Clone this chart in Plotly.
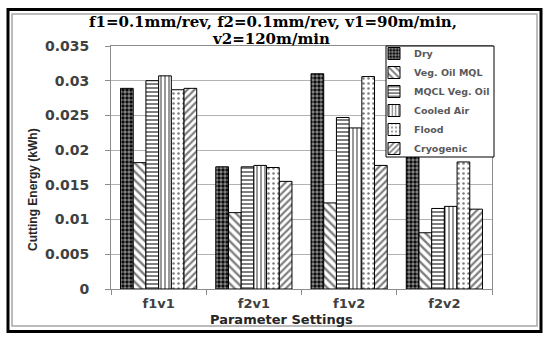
import plotly.graph_objects as go

categories = ["f1v1", "f2v1", "f1v2", "f2v2"]
dry = [0.0289, 0.0176, 0.0310, 0.0191]
veg_oil_mql = [0.0182, 0.0110, 0.0124, 0.0081]
mqcl_veg_oil = [0.0300, 0.0176, 0.0247, 0.0116]
cooled_air = [0.0307, 0.0178, 0.0232, 0.0119]
flood = [0.0287, 0.0175, 0.0306, 0.0183]
cryogenic = [0.0289, 0.0155, 0.0178, 0.0115]
y_tick_vals = [0, 0.005, 0.01, 0.015, 0.02, 0.025, 0.03, 0.035]
y_tick_text = ["0", "0.005", "0.01", "0.015", "0.02", "0.025", "0.03", "0.035"]

W, H = 550, 340
L, R, T, B = 111, 58, 46, 51
PW, PH = W - L - R, H - T - B


def px(x):
    return (x - L) / PW


def py(y):
    return (H - B - y) / PH


series = [
    ("Dry", dry, dict(color="black", pattern=dict(shape=".", fgcolor="white", bgcolor="black", size=4, solidity=0.6))),
    ("Veg. Oil MQL", veg_oil_mql, dict(color="white", pattern=dict(shape="\\", fgcolor="black", bgcolor="white", size=6, solidity=0.4))),
    ("MQCL Veg. Oil", mqcl_veg_oil, dict(color="white", pattern=dict(shape="-", fgcolor="black", bgcolor="white", size=4, solidity=0.5))),
    ("Cooled Air", cooled_air, dict(color="white", pattern=dict(shape="|", fgcolor="black", bgcolor="white", size=4, solidity=0.4))),
    ("Flood", flood, dict(color="white", pattern=dict(shape=".", fgcolor="black", bgcolor="white", size=5, solidity=0.2))),
    ("Cryogenic", cryogenic, dict(color="white", pattern=dict(shape="/", fgcolor="black", bgcolor="white", size=5, solidity=0.45))),
]

fig = go.Figure()
for name, vals, mk in series:
    mk = dict(mk)
    mk["line"] = dict(color="black", width=1)
    fig.add_trace(go.Bar(name=name, x=categories, y=vals, marker=mk))

sans = "DejaVu Sans"
title_font = dict(family="DejaVu Serif", size=15, color="black", weight="bold")
fig.update_layout(
    width=W, height=H, autosize=False,
    margin=dict(l=L, r=R, t=T, b=B, pad=0),
    paper_bgcolor="white", plot_bgcolor="white",
    barmode="group", bargap=0.2, bargroupgap=0,
    showlegend=True,
    legend=dict(
        x=px(374), y=py(39), xanchor="left", yanchor="top",
        bgcolor="rgba(0,0,0,0)", borderwidth=0,
        font=dict(family=sans, size=9.5, color="#595959", weight="bold"),
        itemwidth=30, tracegroupgap=0,
    ),
    xaxis=dict(
        showgrid=False, showline=True, linecolor="#8c8c8c", linewidth=1, mirror=True,
        ticks="outside", tickson="boundaries", ticklen=5, tickcolor="#8c8c8c",
        tickfont=dict(family=sans, size=13, color="#404040", weight="bold"),
        ticklabelstandoff=2,
    ),
    yaxis=dict(
        range=[0, 0.035], tickvals=y_tick_vals, ticktext=y_tick_text,
        showgrid=True, gridcolor="#b3b3b3", gridwidth=1,
        showline=True, linecolor="#8c8c8c", linewidth=1, mirror=True,
        ticks="outside", ticklen=5, tickcolor="#8c8c8c",
        tickfont=dict(family=sans, size=14, color="#404040", weight="bold"),
        ticklabelstandoff=13, zeroline=False,
    ),
    annotations=[
        dict(text="f1=0.1mm/rev, f2=0.1mm/rev, v1=90m/min,", x=px(273), y=py(22),
             xref="paper", yref="paper", showarrow=False, xanchor="center", yanchor="middle",
             font=title_font),
        dict(text="v2=120m/min", x=px(271), y=py(39),
             xref="paper", yref="paper", showarrow=False, xanchor="center", yanchor="middle",
             font=title_font),
        dict(text="Parameter Settings", x=px(281), y=py(319),
             xref="paper", yref="paper", showarrow=False, xanchor="center", yanchor="middle",
             font=dict(family=sans, size=13, color="#262626", weight="bold")),
        dict(text="Cutting Energy (kWh)", x=px(33), y=py(190), textangle=-90,
             xref="paper", yref="paper", showarrow=False, xanchor="center", yanchor="middle",
             font=dict(family="Liberation Sans", size=12, color="#262626", weight="bold")),
    ],
    shapes=[
        dict(type="rect", xref="paper", yref="paper", x0=px(8), x1=px(541), y0=py(331.5), y1=py(9.5),
             line=dict(color="black", width=3), layer="below"),
        dict(type="rect", xref="paper", yref="paper", x0=px(12), x1=px(537), y0=py(326), y1=py(14),
             line=dict(color="#a6a6a6", width=1.5), layer="below"),
        # legend box (background + frame)
        dict(type="rect", xref="paper", yref="paper", x0=px(386), x1=px(494), y0=py(157), y1=py(46),
             fillcolor="white", line=dict(color="black", width=1), layer="above"),
    ],
)

fig.write_html("out.html", config={"displayModeBar": False},
               post_script="document.body.style.margin='0px';")
